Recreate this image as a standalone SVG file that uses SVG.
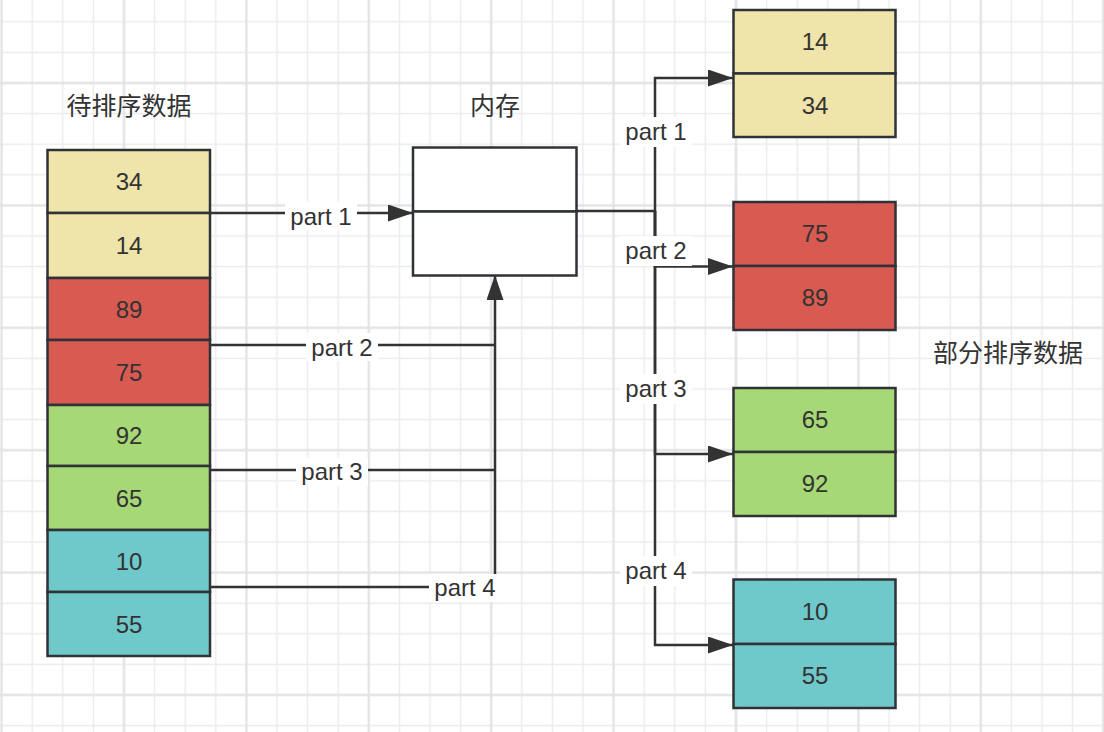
<svg xmlns="http://www.w3.org/2000/svg" width="1104" height="732" viewBox="0 0 1104 732">
<style>
.cell{stroke:#2f3237;stroke-width:2.5}
.y{fill:#EFE4AA}.r{fill:#D85A51}.g{fill:#A6D876}.t{fill:#6FC8CA}.w{fill:#ffffff}
.num{font-family:"Liberation Sans",Arial,sans-serif;font-size:24px;fill:#333;text-anchor:middle}
.lbl{font-family:"Liberation Sans",Arial,sans-serif;font-size:24px;fill:#333;text-anchor:middle}
.cn{font-family:"Liberation Sans","Noto Sans CJK SC",sans-serif;font-size:25px;fill:#333;text-anchor:middle}
.ln{fill:none;stroke:#333;stroke-width:2.5}
.bg{fill:#ffffff}
</style>
<defs>
<pattern id="minor" patternUnits="userSpaceOnUse" x="-13.7" y="6.5" width="30.6" height="30.6">
<path d="M15.3 0V30.6M0 15.3H30.6" stroke="#ececec" stroke-width="1.5" fill="none"/>
</pattern>
<pattern id="major" patternUnits="userSpaceOnUse" x="62.8" y="21.8" width="122.4" height="122.4">
<path d="M61.2 0V122.4M0 61.2H122.4" stroke="#e2e2e2" stroke-width="2" fill="none"/>
</pattern>
<marker id="arr" viewBox="0 0 25 17" refX="25" refY="8.5" markerUnits="userSpaceOnUse" markerWidth="25" markerHeight="17" orient="auto">
<path d="M0 0L25 8.5L0 17Z" fill="#333"/>
</marker>
</defs>
<rect width="1104" height="732" fill="#ffffff"/>
<rect width="1104" height="732" fill="url(#minor)"/>
<rect width="1104" height="732" fill="url(#major)"/>

<text class="cn" x="129" y="115">待排序数据</text>
<text class="cn" x="495" y="115">内存</text>
<text class="cn" x="1008" y="362">部分排序数据</text>

<g id="connectors">
<path class="ln" d="M210 213H413" marker-end="url(#arr)"/>
<path class="ln" d="M210 345H495"/>
<path class="ln" d="M210 470H495"/>
<path class="ln" d="M210 587H495V275" marker-end="url(#arr)"/>
<path class="ln" d="M577 211H655V78H733" marker-end="url(#arr)"/>
<path class="ln" d="M655 211V266.5H733" marker-end="url(#arr)"/>
<path class="ln" d="M655 211V454H733" marker-end="url(#arr)"/>
<path class="ln" d="M655 211V645H733" marker-end="url(#arr)"/>
<rect class="bg" x="285" y="202" width="72" height="28"/>
<text class="lbl" x="321" y="225">part 1</text>
<rect class="bg" x="306" y="333" width="72" height="28"/>
<text class="lbl" x="342" y="356">part 2</text>
<rect class="bg" x="296" y="458" width="72" height="28"/>
<text class="lbl" x="332" y="480">part 3</text>
<rect class="bg" x="429" y="574" width="72" height="28"/>
<text class="lbl" x="465" y="596">part 4</text>
<rect class="bg" x="620" y="117" width="72" height="30"/>
<text class="lbl" x="656" y="140">part 1</text>
<rect class="bg" x="620" y="236" width="72" height="30"/>
<text class="lbl" x="656" y="259">part 2</text>
<rect class="bg" x="620" y="374" width="72" height="30"/>
<text class="lbl" x="656" y="397">part 3</text>
<rect class="bg" x="620" y="556" width="72" height="30"/>
<text class="lbl" x="656" y="579">part 4</text>
</g>

<g id="src">
<rect class="cell y" x="47.5" y="150" width="162.5" height="63"/>
<text class="num" x="129" y="190">34</text>
<rect class="cell y" x="47.5" y="213" width="162.5" height="65"/>
<text class="num" x="129" y="254">14</text>
<rect class="cell r" x="47.5" y="278" width="162.5" height="62"/>
<text class="num" x="129" y="318">89</text>
<rect class="cell r" x="47.5" y="340" width="162.5" height="65"/>
<text class="num" x="129" y="381">75</text>
<rect class="cell g" x="47.5" y="405" width="162.5" height="61"/>
<text class="num" x="129" y="444">92</text>
<rect class="cell g" x="47.5" y="466" width="162.5" height="64"/>
<text class="num" x="129" y="507">65</text>
<rect class="cell t" x="47.5" y="530" width="162.5" height="62"/>
<text class="num" x="129" y="570">10</text>
<rect class="cell t" x="47.5" y="592" width="162.5" height="64"/>
<text class="num" x="129" y="633">55</text>
</g>

<g id="memory">
<rect class="cell w" x="413" y="147.5" width="163.5" height="64"/>
<rect class="cell w" x="413" y="211.5" width="163.5" height="64"/>
</g>

<g id="out1">
<rect class="cell y" x="733.5" y="10" width="162" height="63.5"/>
<text class="num" x="815" y="50">14</text>
<rect class="cell y" x="733.5" y="73.5" width="162" height="63.5"/>
<text class="num" x="815" y="114">34</text>
</g>
<g id="out2">
<rect class="cell r" x="733.5" y="202" width="162" height="64"/>
<text class="num" x="815" y="242">75</text>
<rect class="cell r" x="733.5" y="266" width="162" height="64"/>
<text class="num" x="815" y="306">89</text>
</g>
<g id="out3">
<rect class="cell g" x="733.5" y="388" width="162" height="64"/>
<text class="num" x="815" y="428">65</text>
<rect class="cell g" x="733.5" y="452" width="162" height="64"/>
<text class="num" x="815" y="492">92</text>
</g>
<g id="out4">
<rect class="cell t" x="733.5" y="579.5" width="162" height="64.5"/>
<text class="num" x="815" y="620">10</text>
<rect class="cell t" x="733.5" y="644" width="162" height="64"/>
<text class="num" x="815" y="684">55</text>
</g>
</svg>
